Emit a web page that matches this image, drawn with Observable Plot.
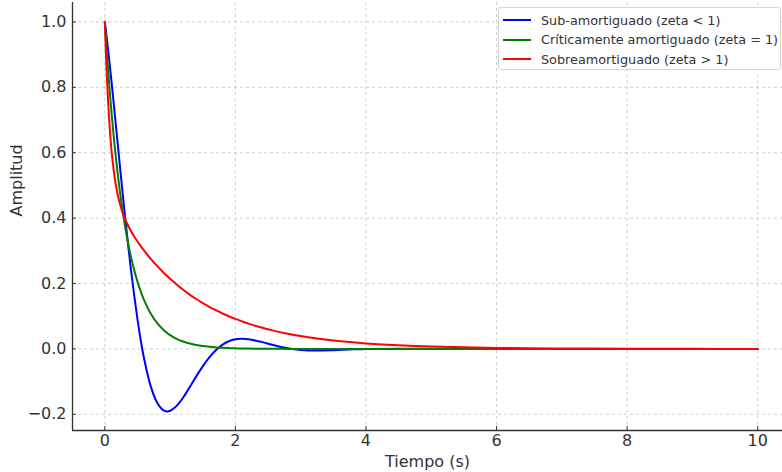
<!DOCTYPE html>
<html>
<head>
<meta charset="utf-8">
<script src="https://cdn.jsdelivr.net/npm/d3@7"></script>
<script src="https://cdn.jsdelivr.net/npm/@observablehq/plot@0.6"></script>
<style>
  body { margin: 0; background: #fff; }
  #wrap { position: relative; width: 782px; height: 472px; font-family: "DejaVu Sans", sans-serif; }
  #legend { position: absolute; left: 498px; top: 7px; width: 283px; height: 63px; box-sizing: border-box;
            background: rgba(255,255,255,0.85); border: 1px solid #d5d5d5; border-radius: 3px;
            font-size: 12.8px; color: #333; }
  .row { position: absolute; left: 0; height: 20px; display: flex; align-items: center; white-space: nowrap; }
  .sw { width: 28px; height: 2px; margin-left: 4px; margin-right: 10px; }
</style>
</head>
<body>
<div id="wrap"><div id="legend"></div></div>
<script>
// ---- data ----
const seriesNames = [
  "Sub-amortiguado (zeta < 1)",
  "Críticamente amortiguado (zeta = 1)",
  "Sobreamortiguado (zeta > 1)"
];
const seriesColors = ["#0000ff", "#008000", "#ff0000"];

const tiempo = [0, 0.025, 0.05, 0.075, 0.1, 0.125, 0.15, 0.2, 0.25, 0.3, 0.35, 0.4, 0.45, 0.5, 0.55, 0.6,
  0.7, 0.8, 0.9, 0.95, 1.0, 1.1, 1.2, 1.3, 1.4, 1.5, 1.6, 1.7, 1.8, 1.9, 2.0, 2.1, 2.2, 2.4, 2.6, 2.8, 3.0,
  3.25, 3.5, 3.75, 4.0, 4.5, 5, 6, 7, 8, 9, 10];

const subAmortiguado = [1, 0.9590, 0.9154, 0.8695, 0.8220, 0.7731, 0.7233, 0.6223, 0.5217, 0.4238, 0.3304,
  0.2429, 0.1634, 0.0909, 0.0270, -0.0280, -0.1122, -0.1636, -0.1879, -0.1911, -0.1892, -0.1742, -0.1485,
  -0.1170, -0.0840, -0.0535, -0.0262, -0.0039, 0.0126, 0.0235, 0.0295, 0.0312, 0.0299, 0.0215, 0.0110,
  0.0022, -0.0031, -0.0051, -0.0039, -0.0018, -0.0001, 0.0008, 0.0002, 0, 0, 0, 0, 0];

const criticamente = [1, 0.9240, 0.8538, 0.7889, 0.7289, 0.6735, 0.6223, 0.5313, 0.4536, 0.3873, 0.3306,
  0.2823, 0.2410, 0.2058, 0.1757, 0.1500, 0.1093, 0.0797, 0.0581, 0.0496, 0.0423, 0.0309, 0.0225, 0.0164,
  0.0119, 0.0087, 0.0064, 0.0046, 0.0034, 0.0025, 0.0018, 0.0013, 0.0010, 0.0005, 0.0003, 0.0001, 0,
  0, 0, 0, 0, 0, 0, 0, 0, 0, 0, 0];

const sobreamortiguado = [1, 0.8617, 0.7564, 0.6755, 0.6130, 0.5642, 0.5255, 0.4693, 0.4308, 0.4023, 0.3797,
  0.3608, 0.3440, 0.3287, 0.3145, 0.3012, 0.2764, 0.2538, 0.2332, 0.2235, 0.2143, 0.1969, 0.1809, 0.1662,
  0.1527, 0.1403, 0.1289, 0.1184, 0.1088, 0.1000, 0.0918, 0.0844, 0.0775, 0.0654, 0.0552, 0.0466, 0.0393,
  0.0319, 0.0258, 0.0209, 0.0169, 0.0111, 0.0072, 0.0031, 0.0013, 0.0006, 0.0002, 0.0001];

const xTicks = [0, 2, 4, 6, 8, 10];
const yTicks = [-0.2, 0.0, 0.2, 0.4, 0.6, 0.8, 1.0];
const xLabel = "Tiempo (s)";
const yLabel = "Amplitud";

// ---- build table ----
const allSeries = [subAmortiguado, criticamente, sobreamortiguado];
const rows = [];
allSeries.forEach((vals, si) => {
  vals.forEach((v, i) => rows.push({ t: tiempo[i], v, s: seriesNames[si] }));
});

const fmtY = d => d3.format(".1f")(d).replace("-", "\u2212");

const chart = Plot.plot({
  width: 782,
  height: 472,
  marginLeft: 72,
  marginRight: 0,
  marginTop: 2,
  marginBottom: 42,
  style: { fontFamily: "DejaVu Sans, sans-serif", fontSize: "16px", color: "#333", background: "white", overflow: "visible" },
  x: { domain: [-0.495, 10.38] },
  y: { domain: [-0.2495, 1.0595] },
  color: { domain: seriesNames, range: seriesColors },
  marks: [
    Plot.gridX(xTicks, { stroke: "#b0b0b0", strokeOpacity: 0.75, strokeDasharray: "3,3", strokeWidth: 0.8 }),
    Plot.gridY(yTicks, { stroke: "#b0b0b0", strokeOpacity: 0.75, strokeDasharray: "3,3", strokeWidth: 0.8 }),
    Plot.line(rows, { x: "t", y: "v", z: "s", stroke: "s", strokeWidth: 2, curve: "catmull-rom" }),
    Plot.axisX(xTicks, { tickSize: -4, tickPadding: 8, tickFormat: d => String(d), stroke: "#333", fill: "#333",
      label: null, fontSize: 16 }),
    Plot.axisY(yTicks, { tickSize: -4, tickPadding: 10, tickFormat: fmtY, stroke: "#333", fill: "#333",
      label: null, fontSize: 16 }),
    Plot.ruleY([-0.2495], { stroke: "#333", strokeWidth: 1.3 }),
    Plot.ruleX([-0.495], { stroke: "#333", strokeWidth: 1.3 }),
    Plot.text([xLabel], { frameAnchor: "bottom", dy: 36, fontSize: 16, fill: "#333" }),
    Plot.text([yLabel], { frameAnchor: "left", dx: -56, rotate: -90, fontSize: 16, fill: "#333" })
  ]
});
document.getElementById("wrap").prepend(chart);

// legend
const leg = document.getElementById("legend");
const rowTops = [2, 21.5, 41];
seriesNames.forEach((n, i) => {
  const r = document.createElement("div");
  r.className = "row";
  r.style.top = rowTops[i] + "px";
  const sw = document.createElement("div");
  sw.className = "sw";
  sw.style.background = seriesColors[i];
  const tx = document.createElement("span");
  tx.textContent = n;
  r.appendChild(sw); r.appendChild(tx);
  leg.appendChild(r);
});
</script>
</body>
</html>
